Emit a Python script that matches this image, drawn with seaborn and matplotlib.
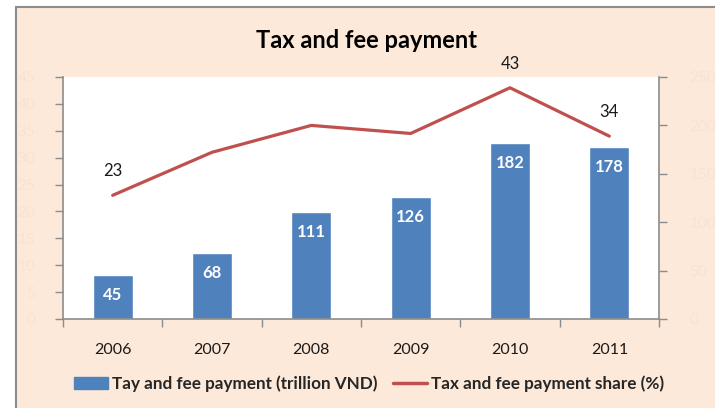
import numpy as np
import matplotlib
matplotlib.use("Agg")
import matplotlib.pyplot as plt
import seaborn as sns
from matplotlib.patches import Rectangle, Patch
from matplotlib.lines import Line2D

# data
years = ["2006", "2007", "2008", "2009", "2010", "2011"]
payment = [45, 68, 111, 126, 182, 178]          # trillion VND (right axis)
share = [23, 31, 36, 34.5, 43, 34]              # % (left axis)
share_labels = ["23", "", "", "", "43", "34"]
payment_ticks = [0, 50, 100, 150, 200, 250]
share_ticks = [0, 5, 10, 15, 20, 25, 30, 35, 40, 45]

BG = "#FDE9D9"
BLUE = "#4F81BD"
RED = "#C0504D"
GREY = "#8C8C8C"
FAINT = "#F8E2D3"

sns.set_theme(style="white")
plt.rcParams["font.family"] = ["Lato", "DejaVu Sans"]

W, H = 715, 408
fig = plt.figure(figsize=(W / 100, H / 100), dpi=100, facecolor="white")
fig.patches.append(Rectangle((16 / W, -0.02), 1.05, 1 - 7 / H + 0.02,
                             transform=fig.transFigure, facecolor=BG,
                             edgecolor=GREY, lw=1.5, zorder=-10))

ax = fig.add_axes([63 / W, 1 - 319 / H, (659 - 63) / W, (319 - 77) / H])
ax.set_facecolor("white")

# bars -> right scale
sns.barplot(x=years, y=payment, ax=ax, color=BLUE, width=0.4, saturation=1)
for p, v in zip(ax.patches, payment):
    ax.annotate(str(v), xy=(p.get_x() + p.get_width() / 2, p.get_height()),
                xytext=(0, -20), textcoords="offset pixels", ha="center",
                va="center", color="white", fontweight="bold", fontsize=12)

# line -> left scale
ax2 = ax.twinx()
sns.lineplot(x=years, y=share, ax=ax2, color=RED, lw=2.3, sort=False)
for i, (v, lbl) in enumerate(zip(share, share_labels)):
    if lbl:
        ax2.annotate(lbl, xy=(i, v), xytext=(0, 24), textcoords="offset pixels",
                     ha="center", va="center", color="#1a1a1a", fontsize=12,
                     annotation_clip=False)

ax.set_xlim(-0.5, 5.5)
ax.set_ylim(0, 250)
ax2.set_ylim(0, 45)

ax.yaxis.tick_right()
ax.set_yticks(payment_ticks)
ax.set_yticklabels(payment_ticks, color=FAINT, fontsize=11)
ax2.yaxis.tick_left()
ax2.set_yticks(share_ticks)
ax2.set_yticklabels(share_ticks, color=FAINT, fontsize=11)

ax.set_xticks(range(len(years)))
ax.set_xticklabels(years, fontsize=11.5, color="#1a1a1a")
ax.set_xticks(np.arange(-0.5, len(years), 1), minor=True)
ax.tick_params(axis="x", which="major", length=0, pad=17)
ax.tick_params(axis="x", which="minor", length=6, width=1, color=GREY,
               direction="out", bottom=True)
ax.tick_params(axis="y", length=6, width=1, color=GREY, direction="out",
               right=True, left=False, pad=16)
ax2.tick_params(axis="y", length=6, width=1, color=GREY, direction="out",
                left=True, right=False, pad=14)

for s in ax.spines.values():
    s.set_color(GREY)
    s.set_linewidth(1.2)
ax.spines["top"].set_visible(False)
for s in ax2.spines.values():
    s.set_visible(False)

ax.set_xlabel("")
ax.set_ylabel("")
ax2.set_xlabel("")
ax2.set_ylabel("")

fig.text(366 / W, 1 - 40 / H, "Tax and fee payment", ha="center",
         va="center", fontsize=17, fontweight="bold", color="black")

handles = [Patch(color=BLUE), Line2D([], [], color=RED, lw=2.5)]
labels = ["Tay and fee payment (trillion VND)", "Tax and fee payment share (%)"]
fig.legend(handles, labels, loc="center", bbox_to_anchor=(369 / W, 1 - 384 / H),
           ncol=2, frameon=False, prop=dict(weight="bold", size=12.3),
           handlelength=2.0, handletextpad=0.25, columnspacing=0.9)

fig.savefig("out.png", dpi=100, facecolor="white")
